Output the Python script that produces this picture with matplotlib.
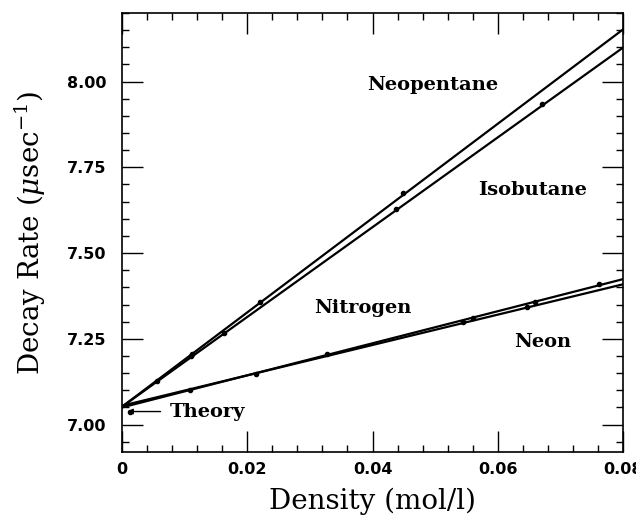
import matplotlib
matplotlib.use('Agg')
import matplotlib.pyplot as plt
import numpy as np
from matplotlib.ticker import MultipleLocator, FixedFormatter, FixedLocator

plt.rcParams['mathtext.fontset'] = 'dejavuserif'

# fitted lines: value at density 0 and at density 0.08
line_names = ['Neopentane', 'Isobutane', 'Nitrogen', 'Neon']
line_x = [0.0, 0.08]
line_start = [7.052, 7.052, 7.050, 7.055]
line_end = [8.152, 8.099, 7.424, 7.409]

# measured points
neopentane_x = [0.0056, 0.0112, 0.0221, 0.0449]
neopentane_y = [7.126, 7.205, 7.357, 7.675]
isobutane_x = [0.0110, 0.0163, 0.0438, 0.0671]
isobutane_y = [7.200, 7.266, 7.629, 7.936]
nitrogen_x = [0.0214, 0.0560, 0.0660, 0.0762]
nitrogen_y = [7.146, 7.310, 7.357, 7.409]
neon_x = [0.0108, 0.0327, 0.0544, 0.0646]
neon_y = [7.100, 7.205, 7.298, 7.342]
theory_x = 0.0013
theory_y = 7.038

label_x = [0.0496, 0.0655, 0.0384, 0.0671]
label_y = [7.99, 7.684, 7.339, 7.24]

xticks = [0, 0.02, 0.04, 0.06, 0.08]
xticklabels = ['0', '0.02', '0.04', '0.06', '0.08']
yticks = [7.00, 7.25, 7.50, 7.75, 8.00]
yticklabels = ['7.00', '7.25', '7.50', '7.75', '8.00']

fig = plt.figure(figsize=(6.36, 5.17), dpi=100)
ax = fig.add_axes([0.1918, 0.1257, 0.7878, 0.8492])

for i in range(len(line_names)):
    ax.plot(line_x, [line_start[i], line_end[i]], color='black', lw=1.6, zorder=3)

for xs, ys in [(neopentane_x, neopentane_y), (isobutane_x, isobutane_y),
               (nitrogen_x, nitrogen_y), (neon_x, neon_y)]:
    ax.plot(xs, ys, 'o', color='black', ms=3, zorder=4)

# theory point with arrow
ax.plot([theory_x], [theory_y], 'o', color='black', ms=3, zorder=4)
ax.annotate('', xy=(0.0004, theory_y), xytext=(0.0066, theory_y),
            arrowprops=dict(arrowstyle='-|>', lw=1.0, color='black', mutation_scale=8))
ax.text(0.0077, theory_y, 'Theory', family='DejaVu Serif', fontsize=14,
        fontweight='bold', va='center', ha='left')

for i in range(len(line_names)):
    ax.text(label_x[i], label_y[i], line_names[i], family='DejaVu Serif', fontsize=14,
            fontweight='bold', va='center', ha='center')

ax.set_xlim(0, 0.08)
ax.set_ylim(6.92, 8.20)

ax.xaxis.set_major_locator(FixedLocator(xticks))
ax.xaxis.set_major_formatter(FixedFormatter(xticklabels))
ax.xaxis.set_minor_locator(MultipleLocator(0.004))
ax.yaxis.set_major_locator(FixedLocator(yticks))
ax.yaxis.set_major_formatter(FixedFormatter(yticklabels))
ax.yaxis.set_minor_locator(MultipleLocator(0.05))

ax.tick_params(which='both', direction='in', top=True, right=True, width=1.0)
ax.tick_params(which='major', length=15)
ax.tick_params(which='minor', length=5)
ax.tick_params(axis='x', which='major', pad=7)
ax.tick_params(axis='y', which='major', pad=11)
for lab in ax.get_xticklabels() + ax.get_yticklabels():
    lab.set_family('DejaVu Sans')
    lab.set_fontweight('bold')
    lab.set_fontsize(11.5)

for s in ax.spines.values():
    s.set_linewidth(1.2)

ax.set_xlabel('Density (mol/l)', family='DejaVu Serif', fontsize=20, labelpad=8)
ax.set_ylabel(r'Decay Rate ($\mu$sec$^{-1}$)', family='DejaVu Serif', fontsize=20, labelpad=14)

fig.savefig('out.png', dpi=100)
